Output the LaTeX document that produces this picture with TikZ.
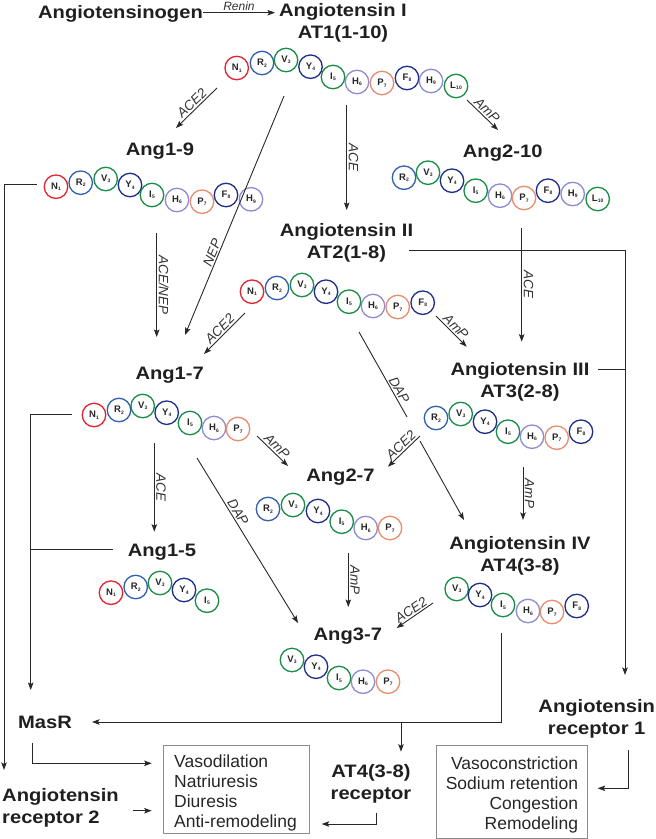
\documentclass[tikz,border=0pt]{standalone}
\usepackage{fontspec}
\setmainfont{Liberation Sans}
\newfontfamily\labfont{Liberation Sans}[FakeStretch=1.12]
\usetikzlibrary{arrows.meta}
\definecolor{cN}{RGB}{225,35,45}
\definecolor{cR}{RGB}{50,95,175}
\definecolor{cV}{RGB}{25,140,70}
\definecolor{cI}{RGB}{25,140,70}
\definecolor{cL}{RGB}{25,140,70}
\definecolor{cY}{RGB}{30,45,140}
\definecolor{cF}{RGB}{30,45,140}
\definecolor{cH}{RGB}{140,140,210}
\definecolor{cP}{RGB}{232,140,110}
\definecolor{ink}{RGB}{40,40,40}
\newcommand\peptide[2]{\foreach \px/\py/\pr/\pn [count=\pi] in {#2} {\node[bead,draw=c\pr] (#1-\pi) at (\px,\py) {\pr\kern0.2pt\raisebox{-1.5pt}{\fontsize{5}{5}\selectfont\pn}};}}
\begin{document}
\begin{tikzpicture}[x=1pt,y=-1pt,
  bead/.style={circle,minimum size=23.5pt,inner sep=0pt,line width=1.3pt,fill=white,font=\bfseries\fontsize{9.5}{9.5}\selectfont,text=black!85},
  lab/.style={font=\labfont\bfseries\fontsize{18}{22}\selectfont,inner sep=0pt,text=black!88,align=center,text height=13.2pt,text depth=3.8pt},
  enz/.style={font=\itshape\fontsize{13.5}{14}\selectfont,inner sep=1.5pt,sloped,above,text=black!80},
  con/.style={draw=ink,line width=0.9pt},
  arr/.style={con,-{Stealth[length=7.5pt,width=5.5pt,inset=1.5pt]}},
  effbox/.style={draw=black!45,line width=0.9pt,inner sep=0pt},
  efftxt/.style={font=\fontsize{17.5}{20}\selectfont,inner sep=0pt,text=black!85}]
\useasboundingbox (0,0) rectangle (656,839);

% ---- labels ----
\node[lab] (ago) at (120.5,13.75) {Angiotensinogen};
\node[lab] (at1) at (343,33.45) {Angiotensin I\\AT1(1-10)};
\node[lab] (a19) at (160,151) {Ang1-9};
\node[lab] (a210) at (502.7,152.5) {Ang2-10};
\node[lab] (at2) at (346.5,253.45) {Angiotensin II\\AT2(1-8)};
\node[lab] (a17) at (169.7,374.75) {Ang1-7};
\node[lab] (at3) at (520,392.45) {Angiotensin III\\AT3(2-8)};
\node[lab] (a27) at (340.5,476.75) {Ang2-7};
\node[lab] (a15) at (162,551.75) {Ang1-5};
\node[lab] (at4) at (520,567.25) {Angiotensin IV\\AT4(3-8)};
\node[lab] (a37) at (347.8,635.5) {Ang3-7};
\node[lab] (masr) at (45,723.5) {MasR};
\node[lab] (ar1) at (596.7,729.75) {Angiotensin\\receptor 1};
\node[lab,align=left,anchor=west] (ar2) at (2,818.45) {Angiotensin\\receptor 2};
\node[lab] (at4r) at (371,794.75) {AT4(3-8)\\receptor};

% ---- effect boxes ----
\node[effbox,anchor=north west,minimum width=146pt,minimum height=87.7pt] (box1) at (163,745) {};
\node[efftxt,align=left,anchor=north west] (box1t) at (174,754.2) {Vasodilation\\Natriuresis\\Diuresis\\Anti-remodeling};
\node[effbox,anchor=north west,minimum width=150.7pt,minimum height=93pt] (box2) at (436,745) {};
\node[efftxt,align=right,anchor=north east] (box2t) at (578.3,756.5) {Vasoconstriction\\Sodium retention\\Congestion\\Remodeling};

% ---- peptides ----
\peptide{pA}{236.7/68/N/1, 262/63/R/2, 286/60/V/3, 310.5/66.7/Y/4, 333/77/I/5, 357/82/H/6, 382/83/P/7, 407/78/F/8, 431/81/H/9, 456/86/L/10}
\peptide{pB}{56/186.7/N/1, 80.7/182.7/R/2, 105.7/179/V/3, 130/185/Y/4, 152/195/I/5, 177/200/H/6, 202/201.7/P/7, 226/195/F/8, 251/199.3/H/9}
\peptide{pC}{404/177.7/R/2, 428/172.7/V/3, 452/180.7/Y/4, 475.7/190.7/I/5, 500/195.7/H/6, 524/198/P/7, 548/190.7/F/8, 572.7/194/H/9, 597.7/199/L/10}
\peptide{pD}{252/291.7/N/1, 277/288/R/2, 302/285/V/3, 326/291.7/Y/4, 349/301.7/I/5, 373/306/H/6, 397.7/307/P/7, 422.7/302.7/F/8}
\peptide{pE}{94/415/N/1, 119/410/R/2, 142.7/406/V/3, 166.7/412.7/Y/4, 190/423/I/5, 214/428/H/6, 238/429/P/7}
\peptide{pF}{436/418/R/2, 460.7/414/V/3, 485/421.7/Y/4, 508/431.7/I/5, 532/436.7/H/6, 556.7/437.7/P/7, 581/431.7/F/8}
\peptide{pG}{111/592.7/N/1, 135.7/587/R/2, 160/583/V/3, 184/590/Y/4, 207/600.7/I/5}
\peptide{pH}{268/509/R/2, 293/505/V/3, 318/511/Y/4, 341.7/521.7/I/5, 365.7/528/H/6, 390/528/P/7}
\peptide{pJ}{456.7/589/V/3, 480/595/Y/4, 503/605/I/5, 528/611/H/6, 552/612/P/7, 576.7/606/F/8}
\peptide{pK}{292/660/V/3, 316/666.7/Y/4, 339/678/I/5, 363/681.7/H/6, 388/681.7/P/7}

% ---- connector end points ----
\coordinate (c0s) at (203,12.7); \coordinate (c0e) at (275,12.7);
\coordinate (c1s) at (217,88); \coordinate (c1e) at (176,128);
\coordinate (c2s) at (284,96); \coordinate (c2e) at (185,335);
\coordinate (c3s) at (346.7,105); \coordinate (c3e) at (346.7,210);
\coordinate (c4s) at (467,100); \coordinate (c4e) at (498,130);
\coordinate (c5s) at (156.7,233); \coordinate (c5e) at (156.7,337);
\coordinate (c6s) at (37,184); \coordinate (c6e) at (4,770);
\coordinate (c7s) at (409,250.7); \coordinate (c7e) at (625,675);
\coordinate (c8s) at (598,369); \coordinate (c8e) at (625,369);
\coordinate (c9s) at (521.7,228); \coordinate (c9e) at (521.7,341.7);
\coordinate (c10s) at (436,316); \coordinate (c10e) at (466.7,346.7);
\coordinate (c11s) at (245,313); \coordinate (c11e) at (204,354);
\coordinate (c12s) at (359,332); \coordinate (c12m) at (407,417);
\coordinate (c12n) at (420,441); \coordinate (c12e) at (464,520);
\coordinate (c13s) at (420,436); \coordinate (c13e) at (388,466.7);
\coordinate (c14s) at (523,467); \coordinate (c14e) at (523,520);
\coordinate (c15s) at (72,414); \coordinate (c15e) at (30.7,690);
\coordinate (c16s) at (113,549); \coordinate (c16e) at (30.7,549);
\coordinate (c17s) at (154.3,443); \coordinate (c17e) at (154.3,531.7);
\coordinate (c18s) at (257,436); \coordinate (c18e) at (288,466);
\coordinate (c19s) at (197,458); \coordinate (c19e) at (298,623);
\coordinate (c20s) at (348.3,553); \coordinate (c20e) at (348.3,607);
\coordinate (c21s) at (433,603); \coordinate (c21e) at (396.7,628);
\coordinate (c22s) at (501,633); \coordinate (c22e) at (92,722);
\coordinate (c23s) at (401,722); \coordinate (c23e) at (401,751.7);
\coordinate (c24s) at (32.7,743); \coordinate (c24e) at (151.7,763.3);
\coordinate (c25s) at (132.7,810.7); \coordinate (c25e) at (151.7,810.7);
\coordinate (c26s) at (376,813); \coordinate (c26e) at (321.7,824);
\coordinate (c27s) at (628,750); \coordinate (c27e) at (597.7,788.3);

% ---- connectors ----
\draw[arr] (c0s) -- node[enz,font=\itshape\fontsize{12}{12}\selectfont] {Renin} (c0e);
\draw[arr] (c1s) -- node[enz] {ACE2} (c1e);
\draw[arr] (c2s) -- node[enz,pos=0.665] {NEP} (c2e);
\draw[arr] (c3s) -- node[enz] {ACE} (c3e);
\draw[arr] (c4s) -- node[enz] {AmP} (c4e);
\draw[arr] (c5s) -- node[enz] {ACE/NEP} (c5e);
\draw[arr] (c6s) -| (c6e);
\draw[arr] (c7s) -| (c7e);
\draw[con] (c8s) -- (c8e);
\draw[arr] (c9s) -- node[enz] {ACE} (c9e);
\draw[arr] (c10s) -- node[enz] {AmP} (c10e);
\draw[arr] (c11s) -- node[enz] {ACE2} (c11e);
\draw[con] (c12s) -- node[enz,pos=0.72] {DAP} (c12m);
\draw[arr] (c12n) -- (c12e);
\draw[arr] (c13s) -- node[enz,pos=0.45] {ACE2} (c13e);
\draw[arr] (c14s) -- node[enz] {AmP} (c14e);
\draw[arr] (c15s) -| (c15e);
\draw[con] (c16s) -- (c16e);
\draw[arr] (c17s) -- node[enz] {ACE} (c17e);
\draw[arr] (c18s) -- node[enz] {AmP} (c18e);
\draw[arr] (c19s) -- node[enz,pos=0.35] {DAP} (c19e);
\draw[arr] (c20s) -- node[enz] {AmP} (c20e);
\draw[arr] (c21s) -- node[enz] {ACE2} (c21e);
\draw[arr] (c22s) |- (c22e);
\draw[arr] (c23s) -- (c23e);
\draw[arr] (c24s) |- (c24e);
\draw[arr] (c25s) -- (c25e);
\draw[arr] (c26s) |- (c26e);
\draw[arr] (c27s) |- (c27e);
\end{tikzpicture}
\end{document}
